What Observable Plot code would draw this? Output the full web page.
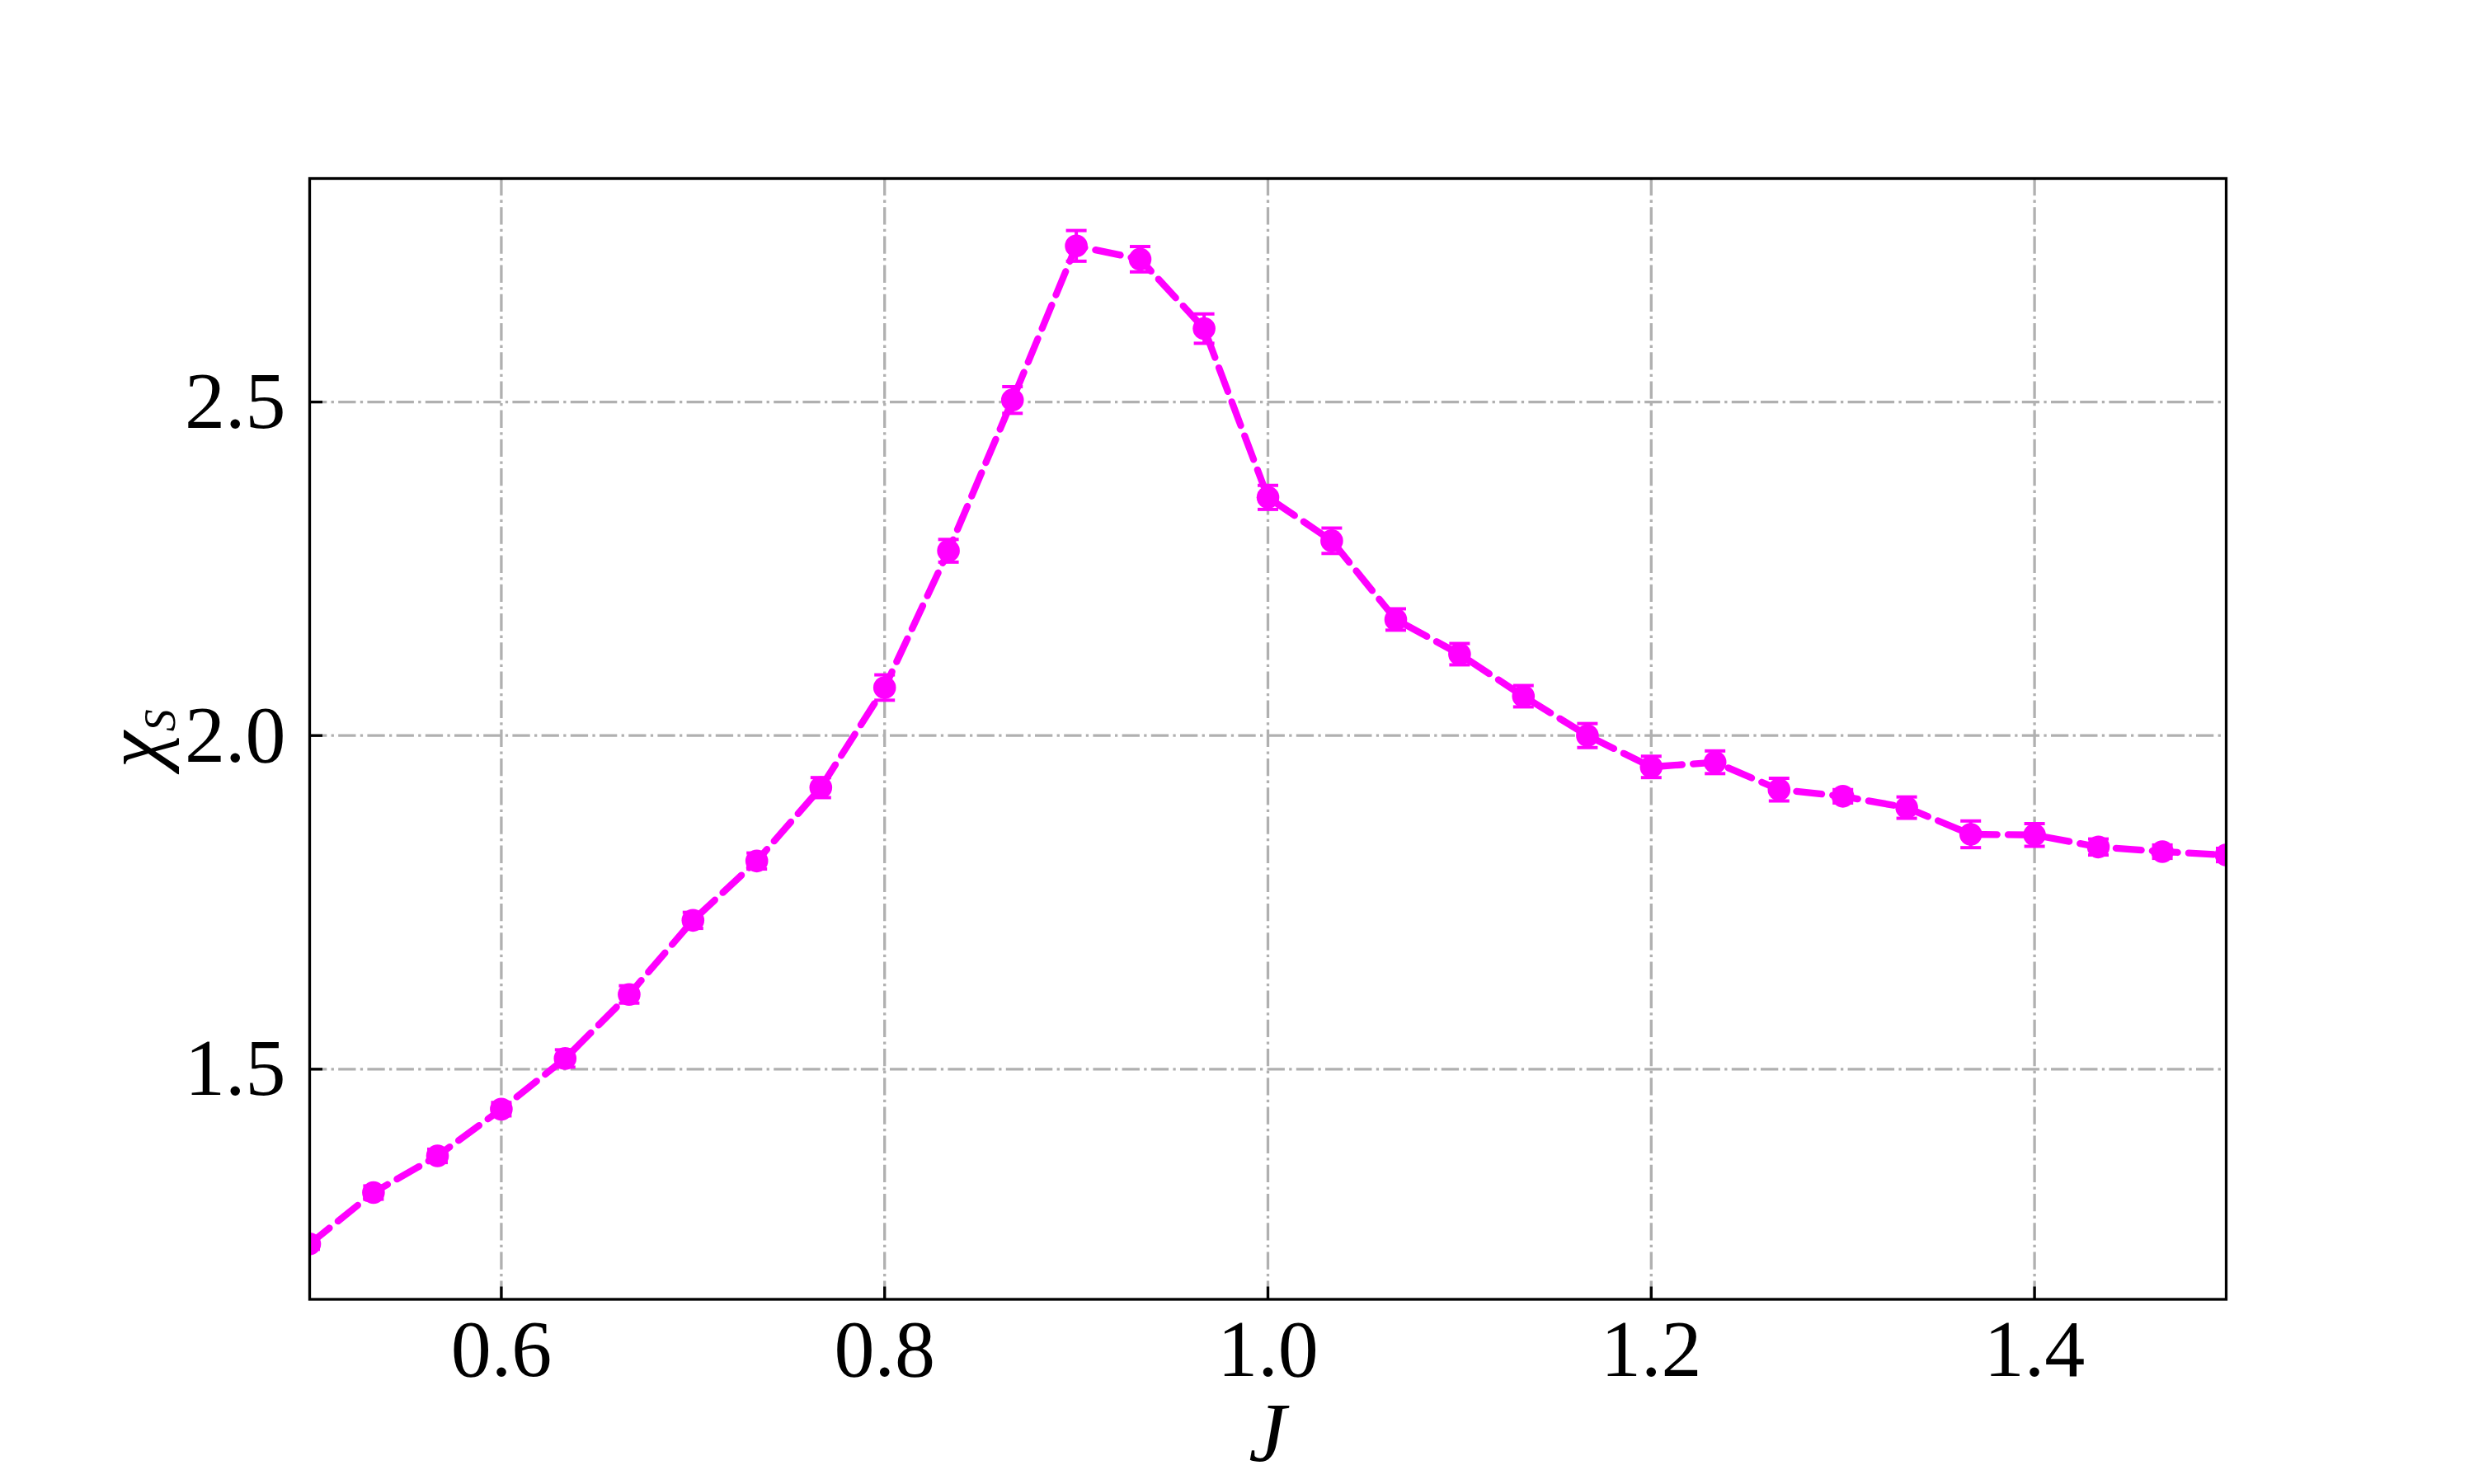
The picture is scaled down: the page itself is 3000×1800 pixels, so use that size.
<!DOCTYPE html>
<html>
<head>
<meta charset="utf-8">
<script src="https://cdn.jsdelivr.net/npm/d3@7"></script>
<script src="https://cdn.jsdelivr.net/npm/@observablehq/plot@0.6"></script>
<style>
  html, body { margin: 0; padding: 0; background: white; }
</style>
</head>
<body>
<div id="chart"></div>
<script>
const J = [0.5, 0.5333, 0.5667, 0.6, 0.6333, 0.6667, 0.7, 0.7333, 0.7667, 0.8,
           0.8333, 0.8667, 0.9, 0.9333, 0.9667, 1.0, 1.0333, 1.0667, 1.1, 1.1333,
           1.1667, 1.2, 1.2333, 1.2667, 1.3, 1.3333, 1.3667, 1.4, 1.4333, 1.4667, 1.5];
const chi = [1.238, 1.315, 1.370, 1.440, 1.516, 1.612, 1.723, 1.812, 1.922, 2.072,
             2.277, 2.503, 2.734, 2.714, 2.610, 2.357, 2.292, 2.174, 2.122, 2.059,
             2.000, 1.953, 1.960, 1.919, 1.909, 1.892, 1.852, 1.851, 1.833, 1.826, 1.821];
const err = [0.008, 0.010, 0.010, 0.010, 0.013, 0.013, 0.012, 0.012, 0.015, 0.019,
             0.017, 0.020, 0.023, 0.019, 0.022, 0.018, 0.019, 0.016, 0.016, 0.016,
             0.018, 0.016, 0.017, 0.017, 0.010, 0.016, 0.020, 0.017, 0.012, 0.010, 0.010];
const xTicks = [0.6, 0.8, 1.0, 1.2, 1.4];
const yTicks = [1.5, 2.0, 2.5];
const xDomain = [0.5, 1.5];
const yDomain = [1.155, 2.835];

const data = J.map((j, i) => ({x: j, y: chi[i], e: err[i]}));

const W = 3000, H = 1800;
const mL = 375, mR = 301, mT = 216, mB = 224.5;
const plotW = W - mL - mR, plotH = H - mT - mB;
const magenta = "#ff00ff";
const grid = {stroke: "#b0b0b0", strokeOpacity: 1, strokeWidth: 3.3, strokeDasharray: "21.3,5.3,3.3,5.3"};

const capSymbol = {
  draw(context, size) {
    const h = Math.sqrt(size / Math.PI);
    context.moveTo(-h, 0);
    context.lineTo(h, 0);
  }
};

const chart = Plot.plot({
  width: W, height: H,
  marginLeft: mL, marginRight: mR, marginTop: mT, marginBottom: mB,
  style: {fontFamily: "'Liberation Serif', serif", background: "white", color: "black"},
  x: {domain: xDomain},
  y: {domain: yDomain},
  marks: [
    Plot.gridX(xTicks, grid),
    Plot.gridY(yTicks, grid),
    Plot.line(data, {x: "x", y: "y", stroke: magenta, strokeWidth: 8.3, strokeDasharray: "30.8,13.3", clip: true}),
    Plot.ruleX(data, {x: "x", y1: d => d.y - d.e, y2: d => d.y + d.e, stroke: magenta, strokeWidth: 4, clip: true}),
    Plot.dot(data, {x: "x", y: d => d.y + d.e, r: 12.5, symbol: capSymbol, stroke: magenta, strokeWidth: 4, fill: "none", clip: true}),
    Plot.dot(data, {x: "x", y: d => d.y - d.e, r: 12.5, symbol: capSymbol, stroke: magenta, strokeWidth: 4, fill: "none", clip: true}),
    Plot.dot(data, {x: "x", y: "y", r: 13.8, fill: magenta, stroke: "none", clip: true}),
    Plot.frame({stroke: "black", strokeWidth: 3.3}),
    Plot.tickX(xTicks, {x: d => d, insetTop: plotH - 15, stroke: "black", strokeWidth: 3.3}),
    Plot.tickY(yTicks, {y: d => d, insetRight: plotW - 16, stroke: "black", strokeWidth: 3.3}),
    Plot.axisX(xTicks, {tickFormat: d3.format(".1f"), tickSize: 0, tickPadding: 23, fontSize: 98, label: null, fill: "black"}),
    Plot.axisY(yTicks, {tickFormat: d3.format(".1f"), tickSize: 0, tickPadding: 29, fontSize: 98, label: null, fill: "black"})
  ]
});

document.getElementById("chart").appendChild(chart);

const svg = d3.select(chart);
// y-axis label chi_S
const yl = svg.append("text")
  .attr("transform", `translate(196, ${mT + plotH / 2}) rotate(-90)`)
  .attr("text-anchor", "middle")
  .attr("font-family", "'Liberation Serif', serif")
  .attr("fill", "black");
yl.append("tspan").attr("font-size", 100).attr("font-style", "italic").text("χ");
yl.append("tspan").attr("font-size", 54).attr("font-style", "italic").attr("dy", 16).text("S");

// x-axis label J
svg.append("text")
  .attr("x", mL + plotW / 2)
  .attr("y", 1772)
  .attr("text-anchor", "middle")
  .attr("font-family", "'Liberation Serif', serif")
  .attr("font-size", 102)
  .attr("font-style", "italic")
  .attr("fill", "black")
  .text("J");
</script>
</body>
</html>
